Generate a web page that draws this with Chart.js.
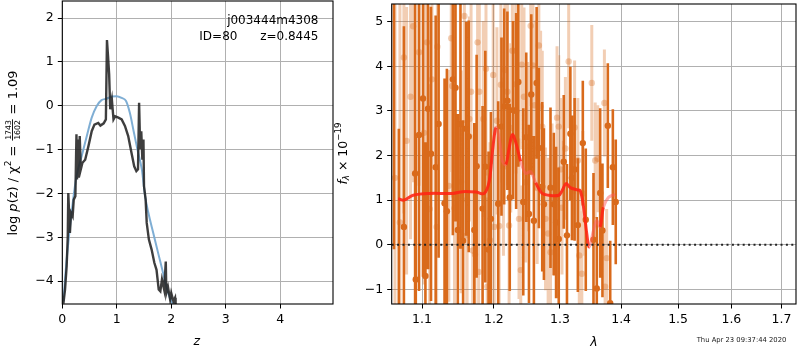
<!DOCTYPE html>
<html><head><meta charset="utf-8">
<script src="https://cdn.jsdelivr.net/npm/chart.js@4"></script>
<style>
html,body{margin:0;padding:0;background:#fff;}
#wrap{position:relative;width:800px;height:350px;overflow:hidden;}
#c1{position:absolute;left:0;top:0;}
#c2{position:absolute;left:330px;top:0;}
</style></head><body>
<div id="wrap"><canvas id="c1" width="340" height="350"></canvas><canvas id="c2" width="470" height="350"></canvas></div>
<script>
// ---------- Left panel data: log p(z) ----------
const pzZ = [0.02,0.05,0.08,0.10,0.11,0.14,0.16,0.19,0.21,0.24,0.26,0.27,0.29,0.30,0.32,0.34,0.37,0.42,0.48,0.54,0.59,0.66,0.70,0.76,0.80,0.82,0.84,0.86,0.88,0.91,0.94,0.97,1.03,1.09,1.15,1.21,1.27,1.32,1.36,1.39,1.41,1.43,1.45,1.47,1.49,1.50,1.53,1.55,1.59,1.64,1.69,1.73,1.77,1.80,1.83,1.87,1.90,1.91,1.94,1.98,2.00,2.04,2.07,2.08];
const pzLog = [-4.51,-4.19,-3.66,-2.99,-1.99,-2.90,-2.44,-2.52,-2.14,-2.06,-0.65,-1.68,-0.77,-1.64,-0.69,-1.45,-1.30,-1.23,-0.92,-0.58,-0.43,-0.39,-0.45,-0.40,-0.31,1.50,1.13,0.72,-0.08,0.14,-0.31,-0.24,-0.27,-0.31,-0.46,-0.69,-1.07,-1.38,-1.49,-1.45,0.07,-0.99,-0.58,-1.23,-0.77,-1.83,-2.14,-2.67,-3.05,-3.28,-3.58,-3.74,-4.19,-4.23,-3.96,-4.19,-3.55,-4.27,-4.13,-4.42,-4.27,-4.46,-4.38,-4.60];
const smZ = [0.02,0.08,0.17,0.26,0.355,0.45,0.54,0.63,0.72,0.81,0.905,1.0,1.09,1.17,1.24,1.31,1.38,1.46,1.52,1.58,1.67,1.76,1.85,1.91,2.0,2.04];
const smLog = [-4.46,-3.51,-2.44,-1.61,-1.15,-0.69,-0.27,-0.01,0.13,0.16,0.21,0.22,0.18,0.11,-0.16,-0.58,-1.0,-1.45,-2.06,-2.44,-2.9,-3.36,-3.81,-4.12,-4.46,-4.51];
const zTicks = [0,1,2,3,4];
const pTicks = [-4,-3,-2,-1,0,1,2];

// ---------- Right panel data: spectrum ----------
const darkLam = [1.0632,1.0695,1.0761,1.0908,1.0917,1.0960,1.1013,1.1045,1.1080,1.1120,1.1183,1.1223,1.1304,1.1336,1.1418,1.1455,1.1487,1.1524,1.1561,1.1603,1.1640,1.1719,1.1752,1.1837,1.1876,1.1923,1.1957,1.2063,1.2111,1.2151,1.2198,1.2233,1.2282,1.2328,1.2361,1.2435,1.2480,1.2521,1.2556,1.2596,1.2638,1.2672,1.2724,1.2750,1.2852,1.2904,1.2939,1.2981,1.3060,1.3111,1.3165,1.3190,1.3233,1.3285,1.3365,1.3413,1.3539,1.3593,1.3649,1.3687,1.3776,1.3816,1.3860,1.3909];
const darkFlux = [5.9,-1.6,0.40,1.60,-0.78,2.46,3.28,-0.70,3.05,2.04,1.74,2.71,0.93,0.75,3.71,3.52,0.33,2.71,0.09,2.60,2.43,0.33,1.76,0.81,1.75,-0.11,0.58,0.92,2.65,3.10,3.23,1.06,3.02,3.00,3.65,0.96,2.41,0.69,3.37,0.54,3.63,2.17,1.30,0.91,1.28,0.91,0.50,0.13,1.86,0.21,2.49,1.50,1.69,0.44,2.28,0.56,0.11,-0.98,1.16,0.32,2.67,-1.31,1.74,0.96];
const darkErr = [6.0,4.2,4.5,3.8,3.2,3.5,4.0,3.0,3.6,3.3,3.4,3.0,2.8,3.2,3.5,3.0,2.6,2.8,2.7,2.4,2.6,2.4,2.5,2.3,2.6,2.2,2.4,2.3,2.0,2.2,2.0,2.1,2.0,2.2,1.9,2.1,1.9,2.0,1.8,1.9,1.7,1.8,1.9,1.7,1.8,1.6,1.7,1.6,1.5,1.6,1.5,1.4,1.6,1.5,1.4,1.6,1.5,1.6,1.9,1.5,1.4,1.4,1.3,1.4];
const lightLam = [1.0645,1.0709,1.0761,1.0796,1.0848,1.0882,1.0960,1.1026,1.1066,1.1102,1.1133,1.1196,1.1206,1.1363,1.1396,1.1410,1.1441,1.1534,1.1579,1.1612,1.1617,1.1649,1.1673,1.1696,1.1729,1.1766,1.1780,1.1790,1.1847,1.1886,1.1904,1.1943,1.1990,1.2005,1.2044,1.2077,1.2102,1.2140,1.2161,1.2198,1.2223,1.2248,1.2272,1.2322,1.2328,1.2371,1.2397,1.2412,1.2446,1.2472,1.2511,1.2547,1.2582,1.2607,1.2646,1.2672,1.2699,1.2724,1.2775,1.2815,1.2852,1.2876,1.2954,1.2981,1.3007,1.3032,1.3086,1.3138,1.3233,1.3285,1.3308,1.3349,1.3365,1.3511,1.3567,1.3609,1.3719,1.3731,1.3757];
const lightFlux = [1.5,0.5,4.20,2.33,3.32,4.90,4.32,2.51,4.54,0.80,3.71,0.40,4.44,1.32,4.63,3.56,0.82,1.41,5.13,0.21,1.01,2.82,3.43,-0.13,-0.22,4.54,-0.61,3.43,2.82,3.95,-0.94,0.10,3.81,0.40,2.78,0.42,3.59,1.75,3.92,3.43,0.43,2.62,4.35,4.35,3.60,0.58,-0.57,4.04,3.32,1.40,2.20,4.91,4.02,3.13,1.27,4.47,3.10,2.65,0.58,0.25,-0.17,1.02,2.85,2.65,1.69,0.83,2.16,4.11,2.63,1.89,-0.24,-0.65,1.15,3.63,1.89,1.93,3.18,-0.94,-0.30];
const lightErr = [6.0,5.0,3.5,3.0,3.2,3.5,3.0,3.4,3.0,2.8,2.6,3.0,2.8,2.6,3.0,2.5,2.7,2.5,2.4,2.6,2.5,2.3,2.2,2.6,2.4,2.3,2.2,2.4,2.2,2.4,2.0,2.2,2.0,2.2,2.1,2.0,2.2,2.0,2.0,2.1,2.0,1.9,2.0,1.9,2.0,1.8,1.9,1.9,2.0,1.8,1.9,1.8,1.8,1.9,1.7,1.8,1.7,1.7,1.6,1.7,1.6,1.7,1.6,1.6,1.6,1.5,1.6,1.5,1.5,1.4,1.5,1.4,1.4,1.3,1.3,1.2,1.2,1.2,1.1];
const modelLam = [1.0687,1.0761,1.0882,1.1102,1.1418,1.1556,1.1744,1.1861,1.1933,1.1980,1.2030,1.2077,1.2126,1.2175,1.2224,1.2272,1.2322,1.2396,1.2471,1.2547,1.2623,1.2723,1.2826,1.2981,1.3033,1.3096,1.3165,1.3270,1.3324,1.3377,1.3430,1.3469,1.3539,1.3592,1.3648,1.3702,1.3785,1.3897];
const modelFlux = [1.03,1.00,1.11,1.15,1.15,1.19,1.18,1.15,1.43,2.10,2.63,2.39,1.87,1.80,2.17,2.47,2.30,1.87,1.60,1.64,1.39,1.15,1.11,1.11,1.21,1.37,1.28,1.23,1.21,0.84,0.24,-0.05,0.32,0.54,0.40,0.84,1.06,1.13];
const lamTicks = [1.1,1.2,1.3,1.4,1.5,1.6,1.7];
const fluxTicks = [-1,0,1,2,3,4,5];

// ---------- styling ----------
const FONT = '"DejaVu Sans", sans-serif';
const LAM_MIN = 1.0603, LAM_MAX = 1.7303;
const DARK = 'rgb(217,106,27)';
const LIGHT = 'rgba(217,106,27,0.33)';
const PINK_RANGES = [[1.205,1.218],[1.243,1.262],[1.350,1.362],[1.369,1.40]];

const pts = (xs, ys) => xs.map((x,i)=>({x, y: ys[i]}));
function barPts(lam, flux, err){
  const p=[];
  lam.forEach((l,i)=>{ p.push({x:l,y:flux[i]-err[i]},{x:l,y:flux[i]+err[i]},{x:l,y:null}); });
  return p;
}
const setTicks = vals => s => { s.ticks = vals.map(v=>({value:v})); };
const minus = v => String(v).replace('-', '\u2212');
const fitW = w => s => { s.width = w; s.paddingTop = 0; s.paddingBottom = 0; };
const fitH = h => s => { s.height = h; s.paddingLeft = 0; s.paddingRight = 0; };

const frame = {id:'frame', afterDraw(chart){
  const {ctx, chartArea:a} = chart;
  ctx.save(); ctx.strokeStyle='#000'; ctx.lineWidth=1.1;
  ctx.strokeRect(a.left, a.top, a.right-a.left, a.bottom-a.top);
  ctx.restore();
}};

function runs(ctx, list){
  let w=0;
  list.forEach(r=>{
    ctx.font=r.f;
    r.w = r.frac ? Math.max(ctx.measureText(r.n).width, ctx.measureText(r.d).width)+3 : ctx.measureText(r.t).width;
    w+=r.w;
  });
  return w;
}
function drawRuns(ctx, list, x0){
  let x=x0;
  list.forEach(r=>{
    ctx.font=r.f;
    if(r.frac){
      ctx.textAlign='center';
      ctx.fillText(r.n, x+r.w/2, -5.6);
      ctx.fillText(r.d, x+r.w/2, 3.2);
      ctx.fillRect(x+0.8, -4.5, r.w-1.6, 0.9);
      ctx.textAlign='left';
    } else {
      ctx.fillText(r.t, x, r.dy||0);
    }
    x+=r.w;
  });
}

const N = '12.5px '+FONT, I = 'italic 12.5px '+FONT, S = '8.7px '+FONT, SI = 'italic 8.7px '+FONT;
const NL = '13px '+FONT, IL = 'italic 13px '+FONT, SL = '9px '+FONT;

const leftText = {id:'leftText', afterDraw(chart){
  const ctx = chart.ctx; ctx.save(); ctx.fillStyle='#000';
  ctx.textBaseline='alphabetic';
  ctx.font='12px '+FONT;
  ctx.textAlign='right'; ctx.fillText('j003444m4308', 318.5, 24);
  ctx.textAlign='left'; ctx.fillText('ID=80', 199.3, 39.5);
  ctx.textAlign='right'; ctx.fillText('z=0.8445', 318.5, 39.5);
  ctx.font=I; ctx.textAlign='center'; ctx.fillText('z', 196.7, 345);
  ctx.translate(16.5, 153); ctx.rotate(-Math.PI/2); ctx.textAlign='left';
  const L = [{t:'log ',f:NL},{t:'p',f:IL},{t:'(z) / ',f:NL},{t:'\u03c7',f:NL},{t:'2',f:SL,dy:-5.2},{t:' = ',f:NL},
             {frac:true,n:'1743',d:'1602',f:'7.8px '+FONT},{t:' = 1.09',f:NL}];
  const w = runs(ctx, L); drawRuns(ctx, L, -w/2);
  ctx.restore();
}};

const rightText = {id:'rightText', afterDraw(chart){
  const ctx = chart.ctx; ctx.save(); ctx.fillStyle='#000';
  ctx.textBaseline='alphabetic';
  ctx.font=I; ctx.textAlign='center'; ctx.fillText('\u03bb', 264, 345.5);
  ctx.font='6.8px '+FONT; ctx.textAlign='left'; ctx.fillStyle='#222';
  ctx.fillText('Thu Apr 23 09:37:44 2020', 366.7, 342.3);
  ctx.fillStyle='#000';
  ctx.translate(16.5, 153.5); ctx.rotate(-Math.PI/2);
  const L = [{t:'f',f:I},{t:'\u03bb',f:SI,dy:2.8},{t:' \u00d7 10',f:N},{t:'\u221219',f:S,dy:-5.3}];
  const w = runs(ctx, L); drawRuns(ctx, L, -w/2);
  ctx.restore();
}};

const tickFont = {family: FONT, size: 12.5};
function axisCommon(extra){
  return Object.assign({
    grid:{color:'#b0b0b0', lineWidth:1, tickColor:'#000', tickLength:4.5, drawTicks:true},
    border:{display:false},
    ticks:{color:'#000', font:tickFont, padding:4, callback: v => minus(v), autoSkip:false, maxRotation:0}
  }, extra);
}

Chart.defaults.animation = false;

new Chart(document.getElementById('c1'), {
  type:'line',
  data:{datasets:[
    {data: pts(pzZ, pzLog), borderColor:'rgba(35,35,35,0.88)', borderWidth:2.4, pointRadius:0, tension:0, clip:0},
    {data: pts(smZ, smLog), borderColor:'rgba(120,170,210,0.95)', borderWidth:2, pointRadius:0, cubicInterpolationMode:'monotone', clip:0}
  ]},
  options:{
    responsive:false, devicePixelRatio:1, animation:false,
    layout:{padding:{top:1, right:7, left:0, bottom:0}},
    plugins:{legend:{display:false}, tooltip:{enabled:false}},
    scales:{
      x: axisCommon({type:'linear', min:0, max:4.97, afterBuildTicks:setTicks(zTicks), afterFit:fitH(46)}),
      y: axisCommon({type:'linear', min:-4.52, max:2.39, afterBuildTicks:setTicks(pTicks), afterFit:fitW(62.3)})
    }
  },
  plugins:[frame, leftText]
});

const pinkSeg = ctx => {
  const x = (ctx.p0.parsed.x + ctx.p1.parsed.x)/2;
  return PINK_RANGES.some(r => x>=r[0] && x<=r[1]) ? 'rgba(255,90,90,0.5)' : 'rgba(255,35,20,0.88)';
};

new Chart(document.getElementById('c2'), {
  type:'line',
  data:{datasets:[
    {data:[{x:LAM_MIN,y:0},{x:LAM_MAX,y:0}], borderColor:'#222', borderWidth:2, borderDash:[2,3.4], pointRadius:0},
    {data: pts(modelLam, modelFlux), borderWidth:3, pointRadius:0, tension:0.35, segment:{borderColor:pinkSeg}, borderColor:'rgba(255,35,20,0.88)'},
    {data: pts(darkLam, darkFlux), showLine:false, pointRadius:3.2, pointBackgroundColor:DARK, pointBorderWidth:0},
    {data: barPts(darkLam, darkFlux, darkErr), borderColor:DARK, borderWidth:2.6, pointRadius:0, borderCapStyle:'butt'},
    {data: pts(lightLam, lightFlux), showLine:false, pointRadius:3.2, pointBackgroundColor:LIGHT, pointBorderWidth:0},
    {data: barPts(lightLam, lightFlux, lightErr), borderColor:LIGHT, borderWidth:3, pointRadius:0, borderCapStyle:'butt'}
  ]},
  options:{
    responsive:false, devicePixelRatio:1, animation:false,
    layout:{padding:{top:1, right:1, left:0, bottom:0}},
    plugins:{legend:{display:false}, tooltip:{enabled:false}},
    scales:{
      x: axisCommon({type:'logarithmic', min:LAM_MIN, max:LAM_MAX, afterBuildTicks:setTicks(lamTicks), afterFit:fitH(46),
                     ticks:{color:'#000', font:tickFont, padding:4, autoSkip:false, maxRotation:0, callback:v=>Number(v).toFixed(1)}}),
      y: axisCommon({type:'linear', min:-1.33, max:5.4, afterBuildTicks:setTicks(fluxTicks), afterFit:fitW(61.7)})
    }
  },
  plugins:[frame, rightText]
});
</script>
</body></html>
